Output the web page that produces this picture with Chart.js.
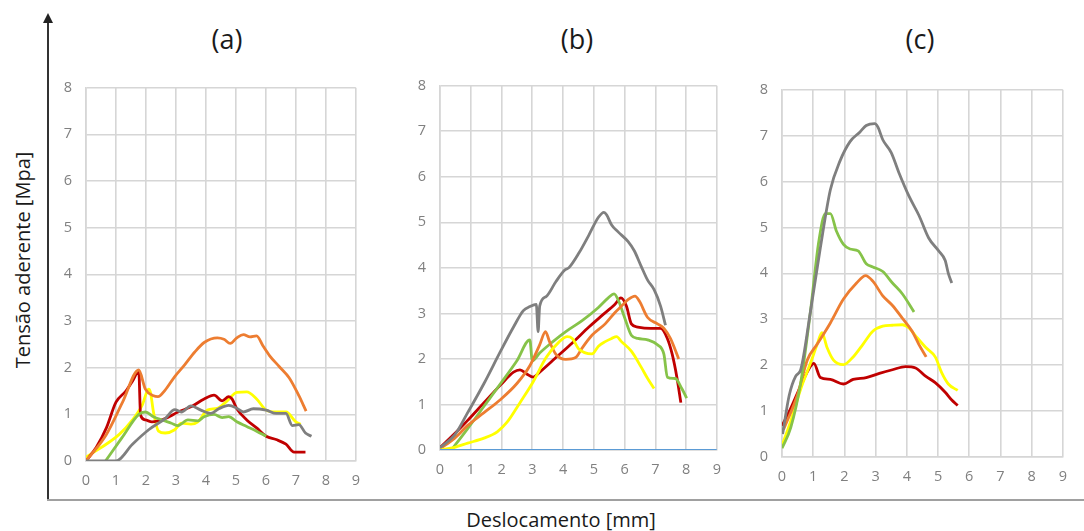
<!DOCTYPE html>
<html>
<head>
<meta charset="utf-8">
<script src="https://cdn.jsdelivr.net/npm/chart.js@4/dist/chart.umd.min.js"></script>
<style>
    body { margin: 0; background: #fff; }
    #fig { position: relative; width: 1084px; height: 531px; overflow: hidden; background: #fff; font-family: "Open Sans", Lato, sans-serif; }
    #fig canvas { position: absolute; }
    .titulo { position: absolute; font-size: 27px; color: #1a1a1a; transform: translate(-50%, -50%); }
    .eixo-v { position: absolute; left: 47px; top: 20px; width: 1.5px; height: 480px; background: #333; }
    .seta { position: absolute; left: 43px; top: 13px; width: 0; height: 0; border-left: 5px solid transparent; border-right: 5px solid transparent; border-bottom: 10px solid #222; }
    .eixo-h { position: absolute; left: 47px; top: 499px; width: 1037px; height: 1.5px; background: #a0a0a0; }
    .rotulo { position: absolute; font-size: 20px; color: #1a1a1a; white-space: nowrap; }
</style>
</head>
<body>
<div id="fig">
    <div class="eixo-v"></div>
    <div class="seta"></div>
    <div class="eixo-h"></div>
    <div class="titulo" style="left:227px; top:38px;">(a)</div>
    <div class="titulo" style="left:577px; top:38px;">(b)</div>
    <div class="titulo" style="left:920px; top:38px;">(c)</div>
    <div class="rotulo" style="left:22px; top:260px; transform: translate(-50%, -50%) rotate(-90deg);">Tensão aderente [Mpa]</div>
    <div class="rotulo" style="left:561px; top:519px; transform: translate(-50%, -50%);">Deslocamento [mm]</div>
    <canvas id="chartA"></canvas>
    <canvas id="chartB"></canvas>
    <canvas id="chartC"></canvas>
</div>
<script>
// eixos (mm / MPa)
var xTicks = [0, 1, 2, 3, 4, 5, 6, 7, 8, 9];
var yTicks = [0, 1, 2, 3, 4, 5, 6, 7, 8];

// painel (a)  [deslocamento, tensao]
var a_cinza = [[0,0],[1.0,0],[1.55,0.36],[2.09,0.67],[2.64,0.91],[2.96,1.1],[3.18,1.05],[3.5,1.18],[3.83,1.09],[4.16,1.02],[4.43,1.12],[4.76,1.19],[5.03,1.13],[5.25,1.05],[5.58,1.12],[6.01,1.09],[6.34,1.02],[6.67,1.02],[6.88,0.76],[7.1,0.78],[7.32,0.6],[7.52,0.53]];
var a_laranja = [[0,0],[0.68,0.57],[1.22,1.26],[1.76,1.95],[1.98,1.54],[2.25,1.40],[2.4,1.38],[2.64,1.52],[2.96,1.81],[3.29,2.06],[3.62,2.33],[3.94,2.54],[4.38,2.64],[4.6,2.61],[4.81,2.52],[5.03,2.64],[5.25,2.71],[5.47,2.66],[5.69,2.68],[5.9,2.47],[6.12,2.26],[6.45,2.02],[6.78,1.78],[7.1,1.40],[7.34,1.07]];
var a_verde = [[0.65,0],[1.2,0.5],[1.76,1.0],[1.98,1.05],[2.25,0.95],[2.53,0.88],[2.85,0.81],[3.07,0.76],[3.4,0.88],[3.73,0.86],[3.94,0.95],[4.27,1.0],[4.54,0.93],[4.76,0.95],[5.03,0.84],[5.36,0.74],[5.69,0.64],[6.01,0.53]];
var a_amarelo = [[0,0.08],[1.11,0.57],[1.55,0.88],[1.87,1.19],[2.09,1.54],[2.15,1.47],[2.25,1.05],[2.42,0.64],[2.64,0.60],[2.96,0.67],[3.18,0.81],[3.5,0.79],[3.73,0.84],[4.05,1.09],[4.38,1.13],[4.71,1.29],[5.03,1.47],[5.36,1.48],[5.69,1.33],[6.01,1.09],[6.34,1.05],[6.67,1.05],[7.0,0.84],[7.16,0.79]];
var a_vermelho = [[0,0],[0.35,0.3],[0.68,0.71],[1.0,1.26],[1.33,1.50],[1.55,1.71],[1.76,1.92],[1.82,0.98],[1.98,0.88],[2.2,0.84],[2.64,0.91],[3.07,1.05],[3.5,1.16],[3.94,1.33],[4.27,1.41],[4.54,1.29],[4.76,1.38],[4.87,1.33],[5.03,1.12],[5.36,0.88],[5.69,0.71],[6.01,0.53],[6.34,0.46],[6.67,0.36],[6.94,0.19],[7.32,0.19]];

// painel (b)
var b_azul = [[0,0],[9,0]];
var b_cinza = [[0,0.05],[0.48,0.33],[0.9,0.82],[1.43,1.46],[1.97,2.17],[2.39,2.7],[2.71,3.06],[2.92,3.15],[3.13,3.2],[3.19,2.6],[3.24,3.16],[3.45,3.37],[3.77,3.70],[4.04,3.94],[4.2,4.01],[4.52,4.33],[4.84,4.72],[5.15,5.11],[5.33,5.22],[5.42,5.16],[5.58,4.94],[5.79,4.79],[6.11,4.58],[6.32,4.37],[6.53,4.05],[6.75,3.73],[6.96,3.52],[7.17,3.16],[7.33,2.74]];
var b_laranja = [[0,0.03],[0.48,0.26],[0.9,0.54],[1.43,0.82],[1.97,1.11],[2.5,1.46],[2.92,1.85],[3.24,2.31],[3.43,2.6],[3.56,2.38],[3.77,2.1],[4.09,1.99],[4.41,2.03],[4.62,2.24],[4.94,2.52],[5.37,2.77],[5.69,3.02],[5.9,3.16],[6.11,3.3],[6.34,3.38],[6.48,3.27],[6.75,2.91],[7.07,2.77],[7.28,2.67],[7.49,2.45],[7.76,2.0]];
var b_verde = [[0.37,0],[0.9,0.47],[1.43,0.96],[1.97,1.46],[2.5,1.96],[2.92,2.42],[3.0,1.96],[3.24,2.13],[3.67,2.38],[4.09,2.6],[4.62,2.84],[5.15,3.13],[5.47,3.34],[5.66,3.43],[5.79,3.30],[6.0,2.91],[6.22,2.52],[6.43,2.45],[6.75,2.42],[7.07,2.31],[7.28,2.1],[7.39,1.6],[7.65,1.57],[7.86,1.35],[8.02,1.14]];
var b_amarelo = [[0,0],[0.48,0.06],[0.9,0.15],[1.43,0.26],[1.86,0.40],[2.18,0.61],[2.6,1.04],[3.03,1.5],[3.45,2.03],[3.88,2.38],[4.14,2.49],[4.3,2.45],[4.52,2.21],[4.94,2.11],[5.15,2.28],[5.37,2.38],[5.58,2.45],[5.74,2.49],[5.9,2.38],[6.22,2.17],[6.54,1.82],[6.75,1.57],[6.96,1.35]];
var b_vermelho = [[0,0.05],[0.48,0.36],[0.9,0.65],[1.43,1.04],[1.97,1.43],[2.39,1.71],[2.6,1.76],[2.82,1.67],[3.03,1.6],[3.24,1.71],[3.77,2.03],[4.3,2.35],[4.84,2.70],[5.26,2.95],[5.69,3.2],[5.88,3.34],[6.06,3.16],[6.22,2.77],[6.43,2.7],[6.86,2.67],[7.17,2.67],[7.39,2.45],[7.55,2.10],[7.7,1.6],[7.83,1.04]];

// painel (c)
var c_cinza = [[0.02,0.5],[0.23,1.34],[0.44,1.76],[0.6,1.9],[0.91,3.16],[1.23,4.56],[1.55,5.82],[1.86,6.45],[2.18,6.87],[2.5,7.08],[2.7,7.22],[2.97,7.26],[3.07,7.19],[3.23,6.91],[3.5,6.63],[3.76,6.17],[4.07,5.68],[4.39,5.26],[4.7,4.77],[5.02,4.49],[5.23,4.28],[5.33,4.0],[5.44,3.79]];
var c_laranja = [[0.05,0.6],[0.49,1.34],[0.81,2.11],[1.13,2.46],[1.55,2.92],[1.97,3.44],[2.39,3.79],[2.68,3.95],[2.91,3.83],[3.23,3.51],[3.54,3.3],[3.86,3.02],[4.17,2.74],[4.38,2.46],[4.62,2.18]];
var c_verde = [[0,0.19],[0.28,0.64],[0.6,1.62],[0.91,3.16],[1.18,4.7],[1.39,5.3],[1.55,5.3],[1.75,4.91],[1.97,4.63],[2.18,4.53],[2.44,4.49],[2.7,4.21],[2.91,4.14],[3.23,4.04],[3.54,3.79],[3.86,3.55],[4.23,3.16]];
var c_amarelo = [[0,0.25],[0.28,0.78],[0.6,1.48],[0.91,2.04],[1.13,2.46],[1.28,2.71],[1.44,2.39],[1.65,2.11],[1.97,2.01],[2.28,2.18],[2.6,2.46],[2.91,2.74],[3.23,2.85],[3.54,2.87],[3.86,2.88],[4.07,2.81],[4.28,2.64],[4.6,2.39],[4.91,2.18],[5.12,1.83],[5.33,1.59],[5.63,1.45]];
var c_vermelho = [[0,0.68],[0.28,1.06],[0.6,1.55],[0.91,1.97],[1.02,2.04],[1.23,1.73],[1.55,1.69],[1.97,1.59],[2.28,1.69],[2.7,1.73],[3.12,1.82],[3.54,1.9],[3.96,1.97],[4.28,1.94],[4.6,1.76],[4.91,1.62],[5.23,1.41],[5.44,1.24],[5.63,1.12]];

var cores = {
    azul: '#5b9bd5',
    cinza: '#7f7f7f',
    laranja: '#ed7d31',
    verde: '#86c349',
    amarelo: '#ffff00',
    vermelho: '#c00000'
};

function serie(pontos, cor, largura) {
    return {
        data: pontos.map(function (p) { return {x: p[0], y: p[1]}; }),
        borderColor: cor,
        borderWidth: largura || 2.8,
        pointRadius: 0,
        fill: false,
        cubicInterpolationMode: 'monotone'
    };
}

// area do grafico: left, top, right, bottom (px na figura)
function painel(id, area, datasets) {
    var canvas = document.getElementById(id);
    var w = area[2] - area[0] + 50;
    var h = area[3] - area[1] + 50;
    canvas.width = w;
    canvas.height = h;
    canvas.style.left = (area[0] - 40) + 'px';
    canvas.style.top = (area[1] - 10) + 'px';
    canvas.style.width = w + 'px';
    canvas.style.height = h + 'px';

    var tickFont = {family: 'Open Sans', size: 14.5};
    return new Chart(canvas, {
        type: 'line',
        data: {datasets: datasets},
        options: {
            responsive: false,
            animation: false,
            layout: {padding: {top: 10, right: 10, left: 0, bottom: 0}},
            plugins: {legend: {display: false}, tooltip: {enabled: false}},
            scales: {
                x: {
                    type: 'linear', min: xTicks[0], max: xTicks[xTicks.length - 1],
                    afterFit: function (s) { s.height = 40; },
                    afterBuildTicks: function (s) { s.ticks = xTicks.map(function (v) { return {value: v}; }); },
                    grid: {color: '#d6d6d6', lineWidth: 1.6, drawTicks: false},
                    border: {color: '#d6d6d6', width: 1.6},
                    ticks: {color: '#808080', font: tickFont, padding: 11, maxRotation: 0}
                },
                y: {
                    min: yTicks[0], max: yTicks[yTicks.length - 1],
                    afterFit: function (s) { s.width = 40; },
                    afterBuildTicks: function (s) { s.ticks = yTicks.map(function (v) { return {value: v}; }); },
                    grid: {color: '#d6d6d6', lineWidth: 1.6, drawTicks: false},
                    border: {color: '#d6d6d6', width: 1.6},
                    ticks: {color: '#808080', font: tickFont, padding: 14}
                }
            }
        }
    });
}

painel('chartA', [86, 75, 361, 461], [
    serie(a_cinza, cores.cinza),
    serie(a_laranja, cores.laranja),
    serie(a_verde, cores.verde),
    serie(a_vermelho, cores.vermelho),
    serie(a_amarelo, cores.amarelo)
]);

painel('chartB', [440, 73, 722, 450], [
    serie(b_azul, cores.azul, 1.8),
    serie(b_cinza, cores.cinza),
    serie(b_amarelo, cores.amarelo),
    serie(b_laranja, cores.laranja),
    serie(b_verde, cores.verde),
    serie(b_vermelho, cores.vermelho)
]);

painel('chartC', [782, 77, 1068, 457], [
    serie(c_cinza, cores.cinza),
    serie(c_verde, cores.verde),
    serie(c_laranja, cores.laranja),
    serie(c_amarelo, cores.amarelo),
    serie(c_vermelho, cores.vermelho)
]);
</script>
</body>
</html>
